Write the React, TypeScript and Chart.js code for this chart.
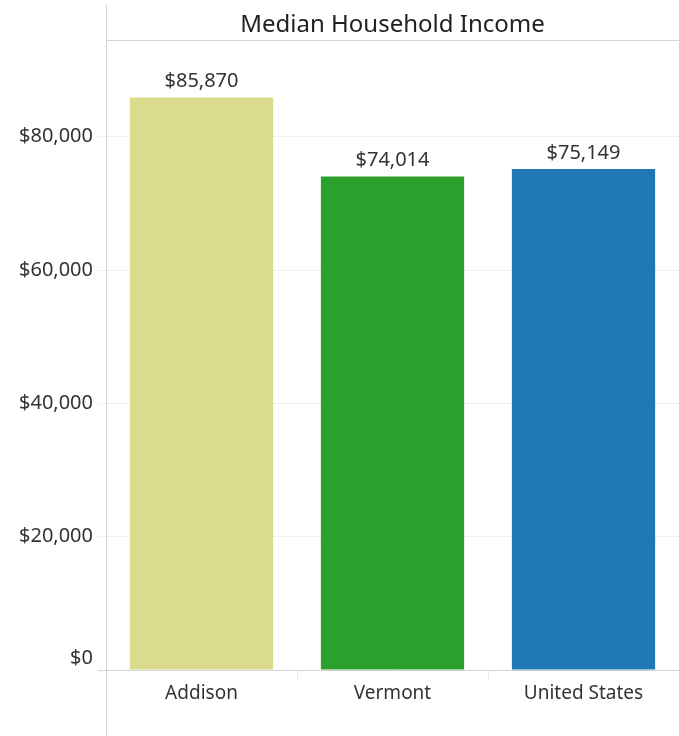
import React, { useEffect, useRef } from "react";
import { Chart, registerables } from "chart.js";

Chart.register(...registerables);

const categories = ["Addison", "Vermont", "United States"];
const incomeValues = [85870, 74014, 75149];
const barColors = ["#dbdb8d", "#2ca02c", "#1f77b4"];
const yTickValues = [0, 20000, 40000, 60000, 80000];
const chartTitle = "Median Household Income";

const FONT = "'Noto Sans', sans-serif";
const TEXT = "#333333";
const fmt = (v: number) => "$" + v.toLocaleString("en-US");

export default function App() {
  const ref = useRef<HTMLCanvasElement>(null);

  useEffect(() => {
    if (!ref.current) return;

    const framePlugin = {
      id: "frame",
      afterDraw(chart: any) {
        const { ctx, chartArea } = chart;
        ctx.save();
        ctx.strokeStyle = "#d4d4d4";
        ctx.lineWidth = 1;
        ctx.beginPath();
        const x = Math.round(chartArea.left) + 0.5;
        ctx.moveTo(x, 5);
        ctx.lineTo(x, chart.height);
        const y = Math.round(chartArea.top) + 0.5;
        ctx.moveTo(chartArea.left, y);
        ctx.lineTo(chartArea.right, y);
        ctx.stroke();
        ctx.fillStyle = "#222222";
        ctx.font = `24px ${FONT}`;
        ctx.textAlign = "center";
        ctx.textBaseline = "middle";
        ctx.fillText(chartTitle, (chartArea.left + chartArea.right) / 2, 25);
        ctx.restore();
      },
    };

    const valueLabels = {
      id: "valueLabels",
      afterDatasetsDraw(chart: any) {
        const { ctx } = chart;
        const meta = chart.getDatasetMeta(0);
        ctx.save();
        ctx.fillStyle = TEXT;
        ctx.font = `20px ${FONT}`;
        ctx.textAlign = "center";
        ctx.textBaseline = "middle";
        meta.data.forEach((bar: any, i: number) => {
          ctx.fillText(fmt(incomeValues[i]), bar.x, bar.y - 16);
        });
        ctx.restore();
      },
    };

    const chart = new Chart(ref.current, {
      type: "bar",
      data: {
        labels: categories,
        datasets: [
          {
            data: incomeValues,
            backgroundColor: barColors,
            barPercentage: 0.75,
            categoryPercentage: 1,
          },
        ],
      },
      options: {
        responsive: false,
        animation: false,
        layout: { padding: { top: 40, left: 0, right: 0, bottom: 0 } },
        plugins: {
          legend: { display: false },
          title: { display: false },
          tooltip: { enabled: false },
        },
        scales: {
          x: {
            afterFit: (s: any) => {
              s.height = 66;
            },
            border: { display: false },
            grid: {
              display: true,
              drawOnChartArea: false,
              drawTicks: true,
              tickLength: 10,
              color: "#e8e8e8",
            },
            ticks: {
              color: TEXT,
              font: { family: FONT, size: 19 },
              padding: 2,
              maxRotation: 0,
            },
          },
          y: {
            min: 0,
            max: 94500,
            afterFit: (s: any) => {
              s.width = 106;
            },
            afterBuildTicks: (s: any) => {
              s.ticks = yTickValues.map((v) => ({ value: v }));
            },
            border: { display: false },
            grid: {
              tickLength: 8,
              color: (c: any) => (c.tick && c.tick.value === 0 ? "#d4d4d4" : "#f0f0f0"),
            },
            ticks: {
              color: TEXT,
              font: { family: FONT, size: 20, lineHeight: 1.2 },
              padding: 5,
              callback: (v: any) => (v === 0 ? [fmt(0), ""] : fmt(Number(v))),
            },
          },
        },
      },
      plugins: [framePlugin, valueLabels],
    });

    return () => chart.destroy();
  }, []);

  return (
    <div style={{ position: "absolute", left: 0, top: 0, width: 679, height: 736, background: "#fff" }}>
      <canvas ref={ref} width={679} height={736} style={{ display: "block" }} />
    </div>
  );
}
